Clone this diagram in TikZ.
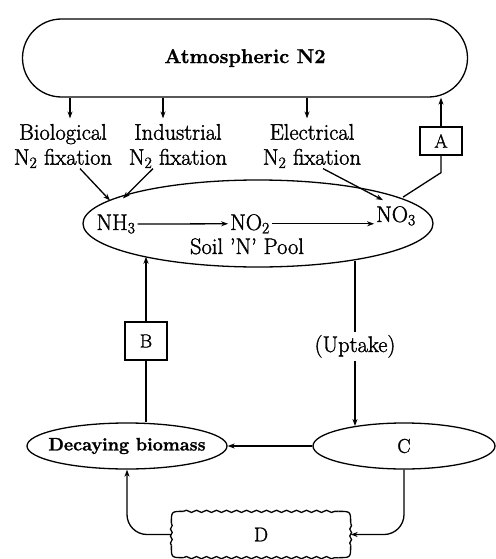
\documentclass[tikz,border=0pt]{standalone}
\usepackage{fontspec}
\setmainfont{Latin Modern Roman}[FakeBold=1.5]
\usetikzlibrary{arrows.meta,shapes.geometric,decorations.pathmorphing}
\begin{document}
\begin{tikzpicture}[x=1pt,y=-1pt, line width=1.3pt,
  arr/.style={-{Stealth[length=7pt,width=5pt]}},
  lbl/.style={font=\fontsize{22.5}{25}\selectfont, inner sep=0pt, align=center},
  chem/.style={font=\fontsize{22.5}{25}\selectfont, inner sep=1.5pt},
  letterbox/.style={draw, font=\fontsize{19}{22}\selectfont, minimum width=42pt, inner sep=0pt},
  oval/.style={draw, ellipse, inner sep=0pt},
  wavy/.style={decorate, decoration={snake, amplitude=1.1pt, segment length=10pt}}]
\useasboundingbox (0,0) rectangle (495,559);
% Atmosphere
\node[draw, rounded corners=39pt, minimum width=445pt, minimum height=78pt,
      font=\bfseries\fontsize{20}{23}\selectfont] (atm) at (245,58) {Atmospheric N2};
% fixation labels
\node[lbl] (bio) at (63,146) {Biological\\N\textsubscript{2} fixation};
\node[lbl] (ind) at (178,146) {Industrial\\N\textsubscript{2} fixation};
\node[lbl] (ele) at (312,146) {Electrical\\N\textsubscript{2} fixation};
\coordinate (bioT) at ([xshift=7pt,yshift=5pt]bio.north);
\coordinate (indT) at ([xshift=-15pt,yshift=5pt]ind.north);
\coordinate (eleT) at ([xshift=-5pt,yshift=5pt]ele.north);
\draw[arr] (bioT |- atm.south) -- (bioT);
\draw[arr] (indT |- atm.south) -- (indT);
\draw[arr] (eleT |- atm.south) -- (eleT);
% soil pool
\node[oval, minimum width=350pt, minimum height=87pt] (soil) at (258,223.5) {};
\node[chem, anchor=base] (nh3) at (116,230) {NH\textsubscript{3}};
\node[chem, anchor=base] (no2) at (250,230) {NO\textsubscript{2}};
\node[chem, anchor=base] (no3) at (396,222) {NO\textsubscript{3}};
\node[lbl, anchor=base] (pool) at (247,254) {Soil 'N' Pool};
\draw[arr] (nh3.east) -- (no2.west);
\draw[arr] (no2.east) -- (no3.west |- no2.east);
\draw[arr] ([xshift=17pt]bio.south) -- ([xshift=-6pt,yshift=12pt]nh3.north);
\draw[arr] ([xshift=-25pt]ind.south) -- ([xshift=7pt,yshift=14pt]nh3.north);
\draw[arr] ([xshift=11pt]ele.south) -- ([xshift=-13pt,yshift=4pt]no3.north);
% A
\node[letterbox, minimum height=28pt] (A) at (441,141) {A};
\draw ([xshift=7pt,yshift=7pt]no3.north) -- ([yshift=-17pt]A.south) -- (A.south);
\draw[arr] (A.north) -- (A.north |- atm.south);
% lower part
\node[oval, minimum width=200pt, minimum height=46pt] (dec) at (127,446) {};
\node[font=\bfseries\fontsize{18}{20}\selectfont, inner sep=0pt] (dectext) at (dec) {Decaying biomass};
\node[oval, minimum width=182pt, minimum height=46pt, font=\fontsize{20}{22}\selectfont] (C) at (404,446) {C};
\node[letterbox, minimum height=38pt] (B) at (146,341) {B};
\draw[arr] (B.north) -- (B.north |- soil.196.5);
\draw (B.south) -- (B.south |- dec.north);
\node[lbl, anchor=base, inner sep=3pt] (up) at (355,352) {(Uptake)};
\draw (up.north |- soil.338.7) -- (up.north);
\draw[arr] (up.south) -- (up.south |- C.158);
\draw[arr] (C.west) -- (dec.east);
% D with wavy border
\node[minimum width=178pt, minimum height=45pt, font=\fontsize{20}{22}\selectfont] (D) at (261,534.5) {D};
\coordinate (dTL) at ([xshift=12pt]D.north west);
\coordinate (dTR) at ([xshift=-12pt]D.north east);
\coordinate (dBL) at ([xshift=12pt]D.south west);
\coordinate (dBR) at ([xshift=-12pt]D.south east);
\coordinate (dLT) at ([yshift=-12pt]D.north west);
\coordinate (dLB) at ([yshift=12pt]D.south west);
\coordinate (dRT) at ([yshift=-12pt]D.north east);
\coordinate (dRB) at ([yshift=12pt]D.south east);
\draw[wavy] (dTL) -- (dTR);
\draw[wavy] (dBL) -- (dBR);
\draw[decorate, decoration={snake, amplitude=0.9pt, segment length=7pt}] (dLT) -- (dLB);
\draw[decorate, decoration={snake, amplitude=0.9pt, segment length=7pt}] (dRT) -- (dRB);
\draw (dTL) .. controls (D.north west) .. (dLT);
\draw (dLB) .. controls (D.south west) .. (dBL);
\draw (dTR) .. controls (D.north east) .. (dRT);
\draw (dRB) .. controls (D.south east) .. (dBR);
\draw[arr, rounded corners=20pt] (C.south) |- (D.east);
\draw[arr, rounded corners=20pt] (D.west) -| (dec.south);
\end{tikzpicture}
\end{document}
